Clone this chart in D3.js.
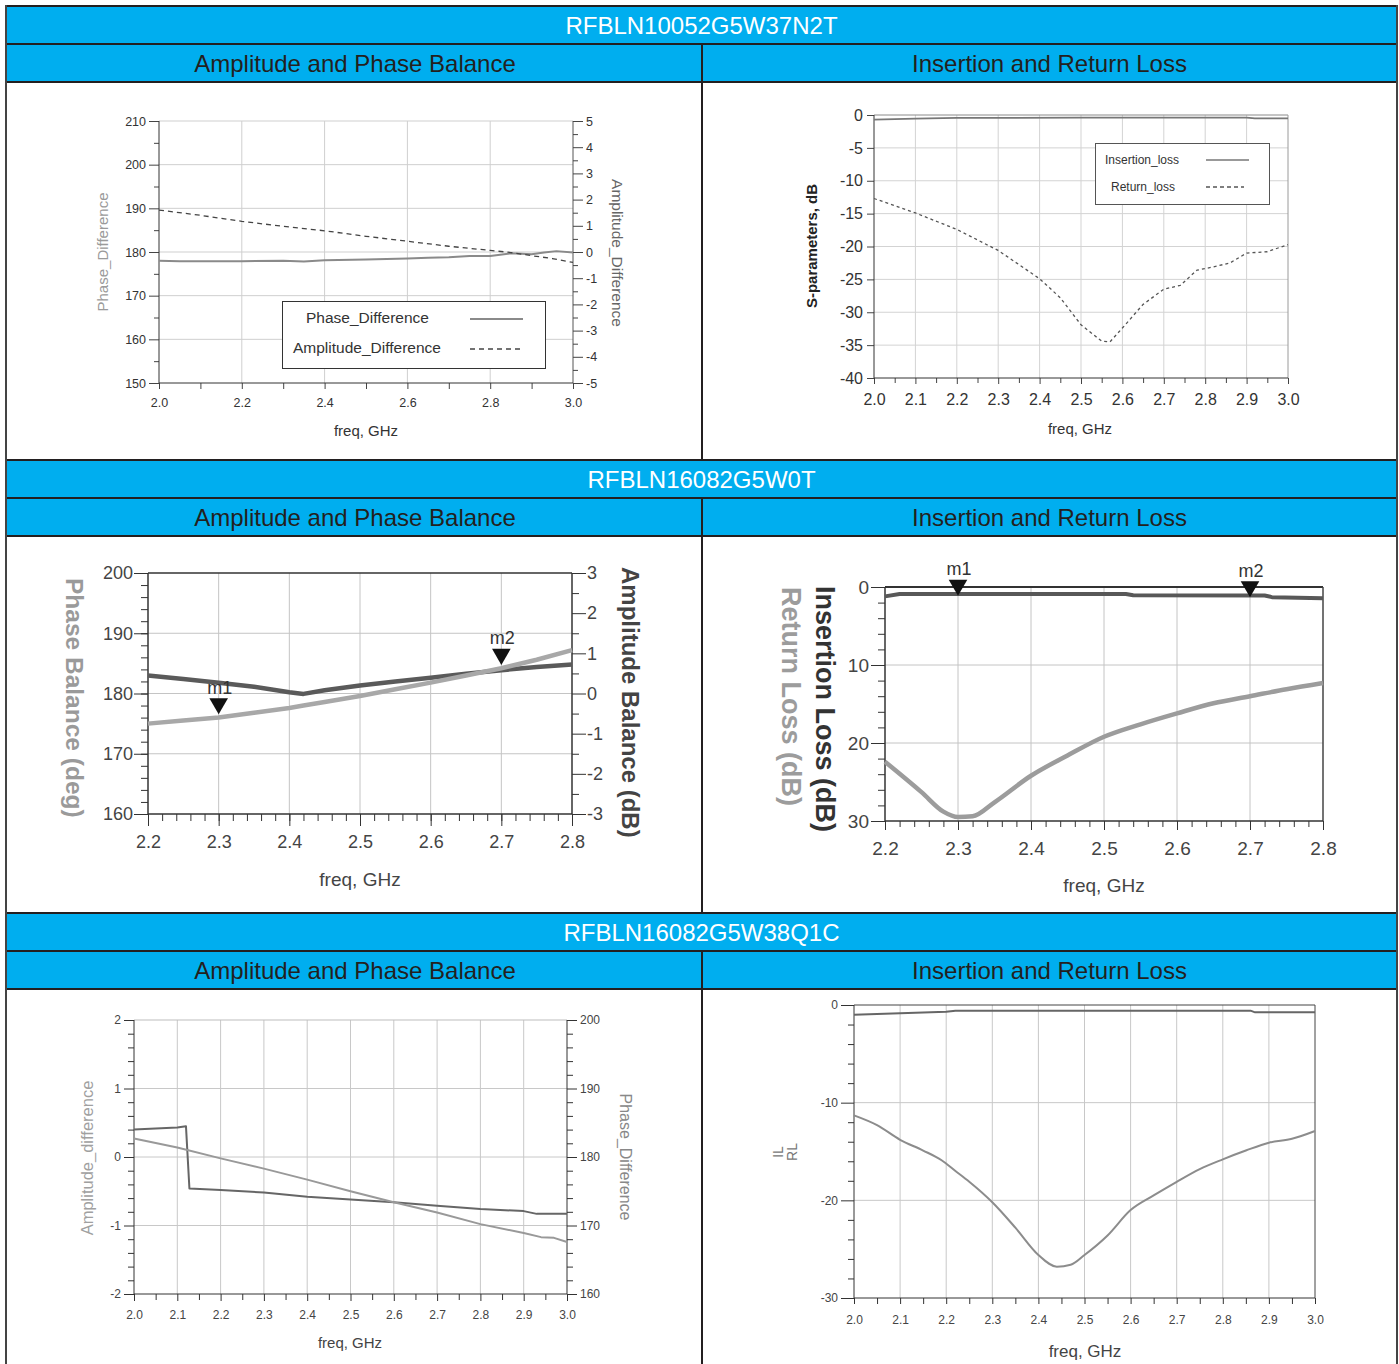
<!DOCTYPE html>
<html><head><meta charset="utf-8">
<script src="https://cdn.jsdelivr.net/npm/d3@7"></script>
<style>
body{margin:0;background:#fff;}
svg{display:block;}
text{font-family:"Liberation Sans",Arial,Helvetica,sans-serif;}
</style>
</head><body>
<svg id="c" width="1399" height="1364"></svg>
<script>
// ---------------- DATA ----------------
const partTitles = ["RFBLN10052G5W37N2T", "RFBLN16082G5W0T", "RFBLN16082G5W38Q1C"];
const panelTitles = ["Amplitude and Phase Balance", "Insertion and Return Loss"];

// Chart 1 (RFBLN10052G5W37N2T, balance)
const c1PhaseF = [2.0, 2.05, 2.1, 2.2, 2.3, 2.35, 2.4, 2.5, 2.6, 2.65, 2.7, 2.75, 2.8, 2.85, 2.9, 2.93, 2.96, 3.0];
const c1Phase  = [178.0, 177.9, 177.9, 177.9, 178.0, 177.8, 178.1, 178.3, 178.5, 178.7, 178.8, 179.1, 179.1, 179.7, 179.5, 179.9, 180.2, 179.9];
const c1AmpF   = [2.0, 2.1, 2.2, 2.3, 2.4, 2.5, 2.6, 2.7, 2.8, 2.85, 2.9, 2.95, 3.0];
const c1Amp    = [1.6, 1.4, 1.17, 0.98, 0.81, 0.6, 0.41, 0.22, 0.06, -0.02, -0.14, -0.25, -0.4];
const c1XTicks = [2.0, 2.2, 2.4, 2.6, 2.8, 3.0];
const c1YTicks = [150, 160, 170, 180, 190, 200, 210];
const c1Y2Ticks = [-5, -4, -3, -2, -1, 0, 1, 2, 3, 4, 5];

// Chart 2 (RFBLN10052G5W37N2T, losses)
const c2ILF = [2.0, 2.1, 2.2, 2.5, 2.9, 2.92, 3.0];
const c2IL  = [-0.7, -0.55, -0.45, -0.4, -0.4, -0.5, -0.5];
const c2RLF = [2.0, 2.1, 2.2, 2.3, 2.4, 2.45, 2.5, 2.55, 2.57, 2.6, 2.65, 2.7, 2.74, 2.78, 2.82, 2.86, 2.9, 2.95, 3.0];
const c2RL  = [-12.7, -14.9, -17.4, -20.6, -24.9, -27.8, -31.9, -34.4, -34.5, -32.4, -28.8, -26.5, -25.9, -23.6, -23.1, -22.5, -21.0, -20.8, -19.7];
const c2XTicks = [2.0, 2.1, 2.2, 2.3, 2.4, 2.5, 2.6, 2.7, 2.8, 2.9, 3.0];
const c2YTicks = [-40, -35, -30, -25, -20, -15, -10, -5, 0];

// Chart 3 (RFBLN16082G5W0T, balance)
const c3F     = [2.2, 2.25, 2.3, 2.35, 2.4, 2.42, 2.45, 2.5, 2.55, 2.6, 2.65, 2.7, 2.75, 2.8];
const c3Amp   = [0.45, 0.36, 0.27, 0.17, 0.03, -0.01, 0.08, 0.2, 0.3, 0.39, 0.49, 0.58, 0.66, 0.72];
const c3Phase = [175.0, 175.5, 176.0, 176.8, 177.6, 178.0, 178.6, 179.6, 180.7, 181.8, 183.0, 184.2, 185.6, 187.2];
const c3XTicks = [2.2, 2.3, 2.4, 2.5, 2.6, 2.7, 2.8];
const c3YTicks = [160, 170, 180, 190, 200];
const c3Y2Ticks = [-3, -2, -1, 0, 1, 2, 3];
const c3Markers = [{name: "m1", f: 2.3}, {name: "m2", f: 2.7}];

// Chart 4 (RFBLN16082G5W0T, losses)
const c4ILF = [2.2, 2.22, 2.53, 2.54, 2.72, 2.73, 2.8];
const c4IL  = [1.2, 0.9, 0.9, 1.05, 1.1, 1.3, 1.45];
const c4RLF = [2.2, 2.25, 2.28, 2.3, 2.32, 2.35, 2.4, 2.45, 2.5, 2.55, 2.6, 2.65, 2.7, 2.75, 2.8];
const c4RL  = [22.4, 26.3, 28.8, 29.5, 29.4, 27.6, 24.2, 21.6, 19.2, 17.6, 16.2, 14.9, 14.0, 13.1, 12.3];
const c4XTicks = [2.2, 2.3, 2.4, 2.5, 2.6, 2.7, 2.8];
const c4YTicks = [0, 10, 20, 30];
const c4Markers = [{name: "m1", f: 2.3}, {name: "m2", f: 2.7}];

// Chart 5 (RFBLN16082G5W38Q1C, balance)
const c5PhaseF = [2.0, 2.1, 2.12, 2.128, 2.2, 2.3, 2.4, 2.5, 2.6, 2.7, 2.8, 2.9, 2.93, 3.0];
const c5Phase  = [184.0, 184.3, 184.5, 175.4, 175.2, 174.8, 174.2, 173.8, 173.4, 172.9, 172.4, 172.1, 171.7, 171.7];
const c5AmpF   = [2.0, 2.1, 2.2, 2.3, 2.4, 2.5, 2.6, 2.7, 2.8, 2.9, 2.94, 2.97, 3.0];
const c5Amp    = [0.27, 0.14, -0.02, -0.17, -0.33, -0.5, -0.66, -0.81, -0.98, -1.11, -1.17, -1.18, -1.24];
const c5XTicks = [2.0, 2.1, 2.2, 2.3, 2.4, 2.5, 2.6, 2.7, 2.8, 2.9, 3.0];
const c5YTicks = [-2, -1, 0, 1, 2];
const c5Y2Ticks = [160, 170, 180, 190, 200];

// Chart 6 (RFBLN16082G5W38Q1C, losses)
const c6ILF = [2.0, 2.1, 2.2, 2.22, 2.86, 2.87, 3.0];
const c6IL  = [-1.0, -0.85, -0.7, -0.58, -0.58, -0.75, -0.75];
const c6RLF = [2.0, 2.05, 2.1, 2.15, 2.19, 2.22, 2.25, 2.3, 2.35, 2.4, 2.44, 2.47, 2.5, 2.55, 2.6, 2.65, 2.7, 2.75, 2.8, 2.85, 2.9, 2.95, 3.0];
const c6RL  = [-11.3, -12.3, -13.8, -14.9, -15.9, -17.0, -18.1, -20.2, -22.8, -25.6, -26.8, -26.6, -25.6, -23.6, -21.0, -19.5, -18.1, -16.8, -15.8, -14.9, -14.1, -13.7, -12.9];
const c6XTicks = [2.0, 2.1, 2.2, 2.3, 2.4, 2.5, 2.6, 2.7, 2.8, 2.9, 3.0];
const c6YTicks = [-30, -20, -10, 0];

// ---------------- DRAWING ----------------
const svg = d3.select("#c");
const FONT = '"Liberation Sans",Arial,Helvetica,sans-serif';
const BLUE = "#00AEEF", LINE = "#231f20";
const zip = (a, b) => a.map((v, i) => [v, b[i]]);
const f1 = d3.format(".1f");
const fs = d => String(d);

// table frame
const rowTops = [6, 460, 913];
const L = 6, R = 1397, MID = 702, BOT = 1364;
rowTops.forEach((t, i) => {
  svg.append("rect").attr("x", L).attr("y", t).attr("width", R - L).attr("height", 76).attr("fill", BLUE);
  svg.append("text").attr("x", (L + R) / 2).attr("y", t + 28).attr("text-anchor", "middle")
    .attr("font-size", 24).attr("fill", "#fff").text(partTitles[i]);
  svg.append("text").attr("x", (L + MID) / 2 + 1).attr("y", t + 66).attr("text-anchor", "middle")
    .attr("font-size", 24).attr("fill", LINE).text(panelTitles[0]);
  svg.append("text").attr("x", (MID + R) / 2).attr("y", t + 66).attr("text-anchor", "middle")
    .attr("font-size", 24).attr("fill", LINE).text(panelTitles[1]);
  [t, t + 38, t + 76].forEach(y => svg.append("line").attr("x1", L).attr("x2", R).attr("y1", y).attr("y2", y)
    .attr("stroke", LINE).attr("stroke-width", 2));
  const end = i < 2 ? rowTops[i + 1] : BOT;
  svg.append("line").attr("x1", MID).attr("x2", MID).attr("y1", t + 38).attr("y2", end).attr("stroke", LINE).attr("stroke-width", 2);
});
svg.append("line").attr("x1", L).attr("x2", L).attr("y1", 5).attr("y2", BOT).attr("stroke", "#444").attr("stroke-width", 2);
svg.append("line").attr("x1", R).attr("x2", R).attr("y1", 5).attr("y2", BOT).attr("stroke", "#444").attr("stroke-width", 2);

function axis(g, orient, scale, vals, size, pad, fmt, fsz, color, pos, tickColor) {
  const gen = (orient === "left" ? d3.axisLeft : orient === "right" ? d3.axisRight : d3.axisBottom)(scale)
    .tickValues(vals).tickSize(size).tickPadding(pad).tickFormat(fmt);
  const a = g.append("g").attr("transform", orient === "bottom" ? `translate(0,${pos})` : `translate(${pos},0)`).call(gen);
  a.select(".domain").remove();
  a.attr("font-family", null).attr("font-size", null);
  a.selectAll(".tick line").attr("stroke", tickColor || "#333");
  a.selectAll(".tick text").attr("font-size", fsz).attr("fill", color).attr("font-family", FONT);
  return a;
}

function chart(c) {
  const g = svg.append("g");
  const x = d3.scaleLinear().domain(c.xDomain).range([c.x0, c.x1]);
  const y = d3.scaleLinear().domain(c.yDomain).range([c.y1, c.y0]);
  const y2 = c.y2Domain ? d3.scaleLinear().domain(c.y2Domain).range([c.y1, c.y0]) : null;
  // grid
  g.selectAll(null).data(c.xGrid).join("line")
    .attr("x1", d => x(d)).attr("x2", d => x(d)).attr("y1", c.y0).attr("y2", c.y1)
    .attr("stroke", c.gridColor).attr("stroke-width", 1);
  g.selectAll(null).data(c.yGrid).join("line")
    .attr("y1", d => y(d)).attr("y2", d => y(d)).attr("x1", c.x0).attr("x2", c.x1)
    .attr("stroke", c.gridColor).attr("stroke-width", 1);
  // frame
  g.append("line").attr("x1", c.x0).attr("x2", c.x1).attr("y1", c.y0).attr("y2", c.y0)
    .attr("stroke", c.topColor).attr("stroke-width", c.topW || 1);
  g.append("line").attr("x1", c.x1).attr("x2", c.x1).attr("y1", c.y0).attr("y2", c.y1)
    .attr("stroke", c.rightColor).attr("stroke-width", c.rightW || 1);
  // axes
  const ax = c.ax;
  axis(g, "bottom", x, c.xMinor, ax.xMinorLen, 0, "", 0, "#000", c.y1, ax.tickColor);
  axis(g, "bottom", x, c.xTicks, ax.xLen, ax.xPad, ax.xFmt, ax.fs, ax.color, c.y1, ax.tickColor);
  axis(g, "left", y, c.yMinor, ax.yMinorLen, 0, "", 0, "#000", c.x0, ax.tickColor);
  axis(g, "left", y, c.yTicks, ax.yLen, ax.yPad, fs, ax.fs, ax.color, c.x0, ax.tickColor);
  if (y2) {
    axis(g, "right", y2, c.y2Minor, ax.yMinorLen, 0, "", 0, "#000", c.x1, ax.tickColor);
    axis(g, "right", y2, c.y2Ticks, ax.yLen, ax.yPad, fs, ax.fs, ax.color, c.x1, ax.tickColor);
  }
  g.append("line").attr("x1", c.x0).attr("x2", c.x0).attr("y1", c.y0).attr("y2", c.y1).attr("stroke", ax.axisColor).attr("stroke-width", ax.axisW);
  g.append("line").attr("x1", c.x0).attr("x2", c.x1).attr("y1", c.y1).attr("y2", c.y1).attr("stroke", ax.axisColor).attr("stroke-width", ax.axisW);
  // series
  c.series.forEach(s => {
    const sc = s.axis === 2 ? y2 : y;
    const line = d3.line().x(d => x(d[0])).y(d => sc(d[1])).curve(s.curve || d3.curveLinear);
    g.append("path").datum(zip(s.f, s.v)).attr("d", line).attr("fill", "none")
      .attr("stroke", s.color).attr("stroke-width", s.width).attr("stroke-dasharray", s.dash || null)
      .attr("stroke-linejoin", "round");
  });
  // markers
  (c.markers || []).forEach(m => {
    const s = c.series[m.series];
    const sc = s.axis === 2 ? y2 : y;
    const mx = x(m.f);
    const my = sc(d3.scaleLinear().domain(s.f).range(s.v)(m.f)) - m.gap;
    const tri = d3.symbol().type(d3.symbolTriangle).size(m.size)();
    g.append("path").attr("d", tri).attr("transform", `translate(${mx},${my - m.h}) rotate(180)`).attr("fill", "#111");
    g.append("text").attr("x", mx + 1).attr("y", my - m.h - m.lab).attr("text-anchor", "middle")
      .attr("font-size", m.fs).attr("fill", "#333").text(m.name);
  });
  // titles
  (c.titles || []).forEach(t => {
    g.append("text").attr("transform", `translate(${t.x},${t.y}) rotate(${t.rot || 0})`)
      .attr("text-anchor", t.anchor || "middle").attr("font-size", t.fs)
      .attr("font-weight", t.bold ? "bold" : null).attr("fill", t.color).text(t.text);
  });
  return {x, y, y2, g};
}

// Chart 1
const ch1 = chart({
  x0: 159, x1: 573, y0: 121, y1: 383, xDomain: [2, 3], yDomain: [150, 210], y2Domain: [-5, 5],
  xTicks: c1XTicks, xMinor: d3.range(2.1, 3.0, 0.2), yTicks: c1YTicks, yMinor: d3.range(155, 210, 10),
  y2Ticks: c1Y2Ticks, y2Minor: d3.range(-4.5, 5, 1),
  xGrid: [2.2, 2.4, 2.6, 2.8], yGrid: [160, 170, 180, 190, 200], gridColor: "#cfcfcf",
  topColor: "#cfcfcf", rightColor: "#555",
  ax: {xLen: 6, xMinorLen: 6, xPad: 9, xFmt: f1, yLen: 10, yMinorLen: 5, yPad: 3, fs: 12.5, color: "#333", tickColor: "#444", axisColor: "#333", axisW: 1},
  series: [
    {f: c1PhaseF, v: c1Phase, axis: 1, color: "#8a8a8a", width: 2},
    {f: c1AmpF, v: c1Amp, axis: 2, color: "#444", width: 1.3, dash: "5,4"}
  ],
  titles: [
    {text: "Phase_Difference", x: 108, y: 252, rot: -90, fs: 15, color: "#9a9a9a"},
    {text: "Amplitude_Difference", x: 612, y: 253, rot: 90, fs: 15.5, color: "#666"},
    {text: "freq, GHz", x: 366, y: 436, fs: 15, color: "#333"}
  ]
});
// legend 1
ch1.g.append("rect").attr("x", 282.5).attr("y", 301.5).attr("width", 263).attr("height", 67).attr("fill", "#fff").attr("stroke", "#333");
ch1.g.append("text").attr("x", 306).attr("y", 323).attr("font-size", 15.5).attr("fill", "#333").text("Phase_Difference");
ch1.g.append("line").attr("x1", 470).attr("x2", 523).attr("y1", 319).attr("y2", 319).attr("stroke", "#8a8a8a").attr("stroke-width", 2);
ch1.g.append("text").attr("x", 293).attr("y", 353).attr("font-size", 15.5).attr("fill", "#333").text("Amplitude_Difference");
ch1.g.append("line").attr("x1", 470).attr("x2", 523).attr("y1", 349).attr("y2", 349).attr("stroke", "#444").attr("stroke-width", 1.3).attr("stroke-dasharray", "5,4");

// Chart 2
const ch2 = chart({
  x0: 874, x1: 1288, y0: 115, y1: 378, xDomain: [2, 3], yDomain: [-40, 0],
  xTicks: c2XTicks, xMinor: d3.range(2.05, 3.0, 0.1), yTicks: c2YTicks, yMinor: [],
  xGrid: d3.range(2.1, 2.95, 0.1), yGrid: d3.range(-35, -1, 5), gridColor: "#d3d3d3",
  topColor: "#8a8a8a", rightColor: "#9a9a9a",
  ax: {xLen: 6, xMinorLen: 5, xPad: 10, xFmt: f1, yLen: 7, yMinorLen: 4, yPad: 4, fs: 16, color: "#333", tickColor: "#444", axisColor: "#333", axisW: 1},
  series: [
    {f: c2ILF, v: c2IL, axis: 1, color: "#777", width: 1.8},
    {f: c2RLF, v: c2RL, axis: 1, color: "#555", width: 1.3, dash: "3,3"}
  ],
  titles: [
    {text: "S-parameters, dB", x: 817, y: 246, rot: -90, fs: 15, bold: true, color: "#222"},
    {text: "freq, GHz", x: 1080, y: 434, fs: 15, color: "#333"}
  ]
});
ch2.g.append("rect").attr("x", 1095.5).attr("y", 143.5).attr("width", 174).attr("height", 61).attr("fill", "#fff").attr("stroke", "#555");
ch2.g.append("text").attr("x", 1105).attr("y", 164).attr("font-size", 12).attr("fill", "#333").text("Insertion_loss");
ch2.g.append("line").attr("x1", 1206).attr("x2", 1249).attr("y1", 160).attr("y2", 160).attr("stroke", "#777").attr("stroke-width", 1.5);
ch2.g.append("text").attr("x", 1111).attr("y", 191).attr("font-size", 12).attr("fill", "#333").text("Return_loss");
ch2.g.append("line").attr("x1", 1206).attr("x2", 1244).attr("y1", 187).attr("y2", 187).attr("stroke", "#555").attr("stroke-width", 1.3).attr("stroke-dasharray", "4,3");

// Chart 3
chart({
  x0: 148, x1: 572, y0: 573, y1: 814, xDomain: [2.2, 2.8], yDomain: [160, 200], y2Domain: [-3, 3],
  xTicks: c3XTicks, xMinor: d3.range(2.22, 2.8, 0.02), yTicks: c3YTicks, yMinor: d3.range(162, 200, 2),
  y2Ticks: c3Y2Ticks, y2Minor: d3.range(-2.5, 3, 1),
  xGrid: [2.3, 2.4, 2.5, 2.6, 2.7], yGrid: [170, 180, 190], gridColor: "#c4c4c4",
  topColor: "#333", rightColor: "#333", topW: 1.5, rightW: 1.5,
  ax: {xLen: 12, xMinorLen: 7, xPad: 9, xFmt: f1, yLen: 14, yMinorLen: 7, yPad: 1, fs: 18, color: "#444", tickColor: "#333", axisColor: "#333", axisW: 1.5},
  series: [
    {f: c3F, v: c3Amp, axis: 2, color: "#5a5a5a", width: 4.5},
    {f: c3F, v: c3Phase, axis: 1, color: "#a8a8a8", width: 4.5}
  ],
  markers: c3Markers.map(m => ({...m, series: 1, gap: 7, h: 7, size: 150, lab: 10, fs: 18})),
  titles: [
    {text: "Phase Balance (deg)", x: 66, y: 578, rot: 90, anchor: "start", fs: 24.5, bold: true, color: "#9a9a9a"},
    {text: "Amplitude Balance (dB)", x: 622, y: 567, rot: 90, anchor: "start", fs: 24, bold: true, color: "#444"},
    {text: "freq, GHz", x: 360, y: 886, fs: 19, color: "#444"}
  ]
});

// Chart 4
chart({
  x0: 885, x1: 1323, y0: 587, y1: 821, xDomain: [2.2, 2.8], yDomain: [30, 0],
  xTicks: c4XTicks, xMinor: d3.range(2.22, 2.8, 0.02), yTicks: c4YTicks, yMinor: d3.range(2, 30, 2),
  xGrid: [2.3, 2.4, 2.5, 2.6, 2.7], yGrid: [10, 20], gridColor: "#c4c4c4",
  topColor: "#333", rightColor: "#444", topW: 2, rightW: 1.5,
  ax: {xLen: 9, xMinorLen: 6, xPad: 12, xFmt: f1, yLen: 14, yMinorLen: 7, yPad: 2, fs: 19, color: "#444", tickColor: "#333", axisColor: "#333", axisW: 1.5},
  series: [
    {f: c4ILF, v: c4IL, axis: 1, color: "#585858", width: 4},
    {f: c4RLF, v: c4RL, axis: 1, color: "#9c9c9c", width: 4.5, curve: d3.curveMonotoneX}
  ],
  markers: c4Markers.map(m => ({...m, series: 0, gap: 2, h: 7, size: 150, lab: 10, fs: 18})),
  titles: [
    {text: "Return Loss (dB)", x: 782, y: 587, rot: 90, anchor: "start", fs: 27, bold: true, color: "#9c9c9c"},
    {text: "Insertion Loss (dB)", x: 816, y: 586, rot: 90, anchor: "start", fs: 27, bold: true, color: "#333"},
    {text: "freq, GHz", x: 1104, y: 892, fs: 19, color: "#444"}
  ]
});

// Chart 5
chart({
  x0: 134, x1: 567, y0: 1020, y1: 1294, xDomain: [2, 3], yDomain: [-2, 2], y2Domain: [160, 200],
  xTicks: c5XTicks, xMinor: d3.range(2.05, 3.0, 0.1), yTicks: c5YTicks, yMinor: [-1.8,-1.6,-1.4,-1.2,-0.8,-0.6,-0.4,-0.2,0.2,0.4,0.6,0.8,1.2,1.4,1.6,1.8],
  y2Ticks: c5Y2Ticks, y2Minor: [162,164,166,168,172,174,176,178,182,184,186,188,192,194,196,198],
  xGrid: d3.range(2.1, 2.95, 0.1), yGrid: [-1, 0, 1], gridColor: "#c8c8c8",
  topColor: "#bdbdbd", rightColor: "#333",
  ax: {xLen: 7, xMinorLen: 6, xPad: 9, xFmt: f1, yLen: 10, yMinorLen: 6, yPad: 3, fs: 12, color: "#444", tickColor: "#333", axisColor: "#333", axisW: 1},
  series: [
    {f: c5PhaseF, v: c5Phase, axis: 2, color: "#666", width: 2},
    {f: c5AmpF, v: c5Amp, axis: 1, color: "#999", width: 2}
  ],
  titles: [
    {text: "Amplitude_difference", x: 93, y: 1158, rot: -90, fs: 16.5, color: "#a0a0a0"},
    {text: "Phase_Difference", x: 620, y: 1157, rot: 90, fs: 16, color: "#888"},
    {text: "freq, GHz", x: 350, y: 1348, fs: 15, color: "#444"}
  ]
});

// Chart 6
chart({
  x0: 854, x1: 1315, y0: 1005, y1: 1298, xDomain: [2, 3], yDomain: [-30, 0],
  xTicks: c6XTicks, xMinor: d3.range(2.05, 3.0, 0.1), yTicks: c6YTicks, yMinor: [-28,-26,-24,-22,-18,-16,-14,-12,-8,-6,-4,-2],
  xGrid: d3.range(2.1, 2.95, 0.1), yGrid: [-20, -10], gridColor: "#c8c8c8",
  topColor: "#444", rightColor: "#444",
  ax: {xLen: 6, xMinorLen: 6, xPad: 11, xFmt: f1, yLen: 13, yMinorLen: 6, yPad: 3, fs: 12, color: "#444", tickColor: "#333", axisColor: "#333", axisW: 1},
  series: [
    {f: c6ILF, v: c6IL, axis: 1, color: "#666", width: 2},
    {f: c6RLF, v: c6RL, axis: 1, color: "#8c8c8c", width: 2, curve: d3.curveMonotoneX}
  ],
  titles: [
    {text: "IL", x: 783, y: 1152, rot: -90, fs: 14, color: "#777"},
    {text: "RL", x: 797, y: 1152, rot: -90, fs: 14, color: "#777"},
    {text: "freq, GHz", x: 1085, y: 1357, fs: 17, color: "#444"}
  ]
});
</script>
</body></html>
